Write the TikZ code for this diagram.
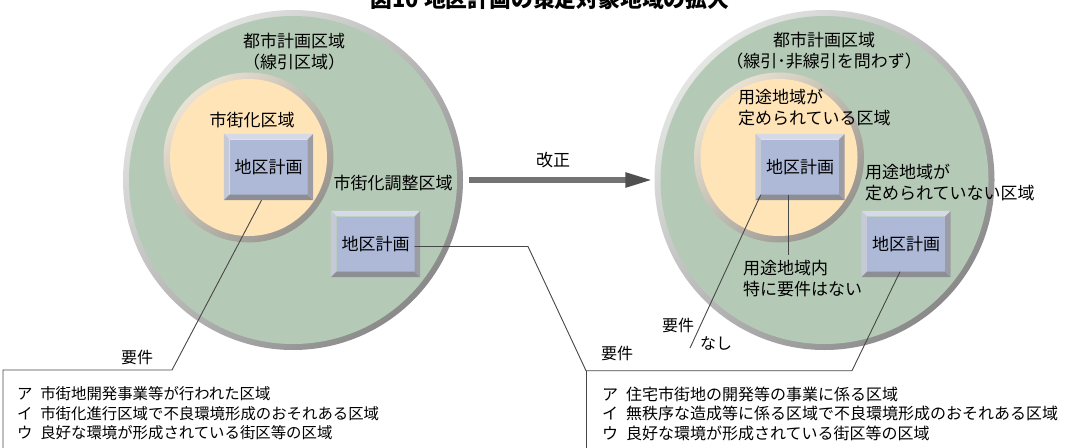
\documentclass[tikz,border=0pt]{standalone}
\usepackage{fontspec}
\newfontfamily\jp{Noto Sans CJK JP}
\usetikzlibrary{calc,arrows.meta}

\definecolor{zonegreen}{HTML}{B5CAB6}
\definecolor{zonepeach}{HTML}{FFE4B8}
\definecolor{rimlight}{HTML}{E4E6E4}
\definecolor{rimdark}{HTML}{8A8A8A}
\definecolor{innerrimlight}{HTML}{EAE2D2}
\definecolor{innerrimdark}{HTML}{96948F}
\definecolor{planface}{HTML}{ADB9D7}
\definecolor{bevtop}{HTML}{D6DAE6}
\definecolor{bevleft}{HTML}{C6CAD7}
\definecolor{bevbot}{HTML}{8D8E94}
\definecolor{bevright}{HTML}{9C9DA4}
\definecolor{leadergray}{HTML}{474747}
\definecolor{arrowgray}{HTML}{737373}
\definecolor{arrowhead}{HTML}{505050}

% bevelled frame around a plan box node
\newcommand\planbevel[1]{%
  \fill[bevtop] (#1.north west) -- (#1.north east) -- ([shift={(5.5pt,5.5pt)}]#1.north east) -- ([shift={(-5.5pt,5.5pt)}]#1.north west) -- cycle;
  \fill[bevleft] (#1.north west) -- (#1.south west) -- ([shift={(-5.5pt,-5.5pt)}]#1.south west) -- ([shift={(-5.5pt,5.5pt)}]#1.north west) -- cycle;
  \fill[bevbot] (#1.south west) -- (#1.south east) -- ([shift={(5.5pt,-5.5pt)}]#1.south east) -- ([shift={(-5.5pt,-5.5pt)}]#1.south west) -- cycle;
  \fill[bevright] (#1.north east) -- (#1.south east) -- ([shift={(5.5pt,-5.5pt)}]#1.south east) -- ([shift={(5.5pt,5.5pt)}]#1.north east) -- cycle;
}

\begin{document}
\begin{tikzpicture}[x=1pt,y=-1pt,
  outerrim/.style={circle, inner sep=0pt, minimum size=340pt, top color=rimlight, bottom color=rimdark, shading angle=45},
  cityzone/.style={circle, inner sep=0pt, minimum size=328pt, fill=zonegreen},
  innerrim/.style={circle, inner sep=0pt, minimum size=170pt, top color=innerrimlight, bottom color=innerrimdark, shading angle=45},
  usezone/.style={circle, inner sep=0pt, minimum size=157pt, fill=zonepeach},
  planbox/.style={fill=planface, minimum width=78pt, minimum height=55pt, inner sep=0pt, font=\jp\fontsize{17}{20}\selectfont},
  zonetext/.style={font=\jp\fontsize{17}{21}\selectfont, inner sep=0pt, align=center},
  zonetextleft/.style={zonetext, align=left, anchor=west},
  reqword/.style={font=\jp\fontsize{16}{19}\selectfont, inner sep=0pt},
  reqlist/.style={font=\jp\fontsize{16}{19.5}\selectfont, inner sep=0pt, align=left, anchor=west},
  leader/.style={draw=leadergray, line width=0.9pt}
]
\clip (0,0) rectangle (1070,447);
\fill[white] (0,0) rectangle (1070,447);

% title
\node[font=\jp\bfseries\fontsize{21.8}{24}\selectfont, anchor=base, inner sep=0pt] (title) at (550,7.5) {図10 地区計画の策定対象地域の拡大};

% before: city planning area with urbanization area
\node[outerrim] (outerL) at (293,180) {};
\node[cityzone] (cityL) at (293,180) {};
\node[innerrim] (rimL) at (248.5,157.5) {};
\node[usezone] (urbanL) at (248.5,157.5) {};

% after: city planning area with use districts
\node[outerrim] (outerR) at (824.5,180) {};
\node[cityzone] (cityR) at (824.5,180) {};
\node[innerrim] (rimR) at (779,157.5) {};
\node[usezone] (useR) at (779,157.5) {};

% zone captions
\node[zonetext] (capL) at (294,51.7) {都市計画区域\\（線引区域）};
\node[zonetext] (urbanLname) at (252,120) {市街化区域};
\node[zonetext] (adjLname) at (393,183) {市街化調整区域};
\node[zonetext] (capR) at (824,51) {都市計画区域\\（線引･非線引を問わず）};
\node[zonetextleft] (useRname) at (738,108) {用途地域が\\定められている区域};
\node[zonetextleft] (nonuseRname) at (865,183) {用途地域が\\定められていない区域};
\node[zonetextleft] (noreqR) at (743,279) {用途地域内\\特に要件はない};

% plan boxes
\node[planbox] (planA) at (268.5,167) {地区計画};
\planbevel{planA}
\node[planbox] (planB) at (375.5,244) {地区計画};
\planbevel{planB}
\node[planbox] (planC) at (800,167) {地区計画};
\planbevel{planC}
\node[planbox] (planD) at (906,244) {地区計画};
\planbevel{planD}

% revision arrow
\draw[line width=5.3pt, arrowgray, -{Triangle[length=27pt,width=14pt,color=arrowhead]}]
  ([xshift=6pt]outerL.east) -- ([xshift=-2pt]outerR.west);
\node[zonetext] (revise) at (553,160) {改正};

% leader lines to the requirement lists
\coordinate (kneeL) at (172,370);
\coordinate (cornerL) at (3,370);
\coordinate (endL) at (3,450);
\draw[leader] ([shift={(-7pt,-5.5pt)}]planA.south) -- (kneeL) -- (cornerL) -- (endL);

\coordinate (bendB) at (528,246.5);
\coordinate (kneeR) at (586,370.7);
\coordinate (kneeD) at (852,370.7);
\coordinate (endR) at (586,450);
\draw[leader] ([yshift=-2.5pt]planB.east) -- (bendB) -- (kneeR) -- (kneeD) -- ([xshift=-6pt]planD.south);
\draw[leader] (kneeR) -- (endR);

\coordinate (noneEnd) at (690,348);
\draw[leader] (planC.south west) -- (noneEnd);
\coordinate (insideEnd) at (788,255);
\draw[leader] ([xshift=-12pt]planC.south) -- (insideEnd);

% requirement labels
\node[reqword] (reqL) at (137,357) {要件};
\node[reqword] (reqR) at (617,353) {要件};
\node[reqword] (reqC) at (678,325) {要件};
\node[reqword] (noneC) at (716,343) {なし};

% requirement lists
\node[reqlist, font=\jp\fontsize{15.4}{19.5}\selectfont] (listL) at (17,413.5) {ア\enspace 市街地開発事業等が行われた区域\\イ\enspace 市街化進行区域で不良環境形成のおそれある区域\\ウ\enspace 良好な環境が形成されている街区等の区域};
\node[reqlist] (listR) at (602,413.5) {ア\enspace 住宅市街地の開発等の事業に係る区域\\イ\enspace 無秩序な造成等に係る区域で不良環境形成のおそれある区域\\ウ\enspace 良好な環境が形成されている街区等の区域};
\end{tikzpicture}
\end{document}
